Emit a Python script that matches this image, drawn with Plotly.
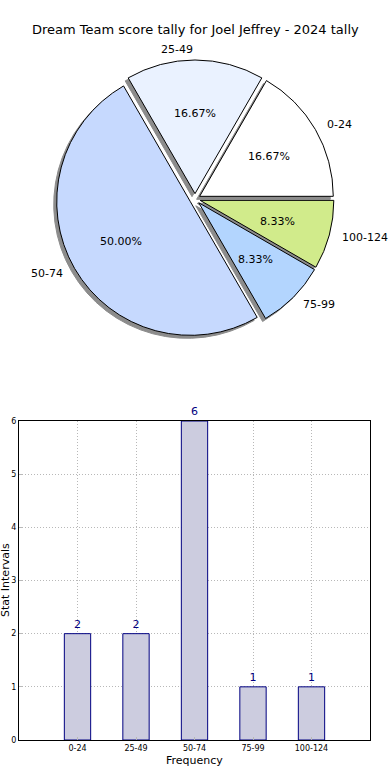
import numpy as np
import plotly.graph_objects as go

title = "Dream Team score tally for Joel Jeffrey - 2024 tally"
categories = ["0-24", "25-49", "50-74", "75-99", "100-124"]
counts = [2, 2, 6, 1, 1]
pie_colors = ["#ffffff", "#eaf2ff", "#c6d9fe", "#b3d5fe", "#d1eb8b"]
pulls = [0.04, 0.04, 0.04, 0.04, 0.04]

W, H = 390, 780
FONT = "DejaVu Sans"

def px_x(a, b):
    return [a / W, b / W]

def px_y(top, bottom):
    return [1 - bottom / H, 1 - top / H]

# pie box (pixels)
PX0, PX1, PY0, PY1 = 56, 334, 60, 338
pie_x = px_x(PX0, PX1)
pie_y = px_y(PY0, PY1)
sh = 3
shadow_x = px_x(PX0 - sh, PX1 - sh)
shadow_y = px_y(PY0 + sh, PY1 + sh)

fig = go.Figure()

common_pie = dict(labels=categories, values=counts, sort=False, direction="counterclockwise",
                  rotation=30, pull=pulls, textinfo="none", showlegend=False)
# shadow
fig.add_trace(go.Pie(
    **common_pie, hoverinfo="skip",
    marker=dict(colors=["#8c8c8c"] * len(counts), line=dict(color="#8c8c8c", width=1)),
    domain=dict(x=shadow_x, y=shadow_y),
))
# main pie
fig.add_trace(go.Pie(
    **common_pie,
    marker=dict(colors=pie_colors, line=dict(color="#000000", width=1)),
    domain=dict(x=pie_x, y=pie_y),
))

# label / percentage positions derived from the data (matplotlib-style placement)
vals = np.array(counts, dtype=float)
total = vals.sum()
cum = np.cumsum(vals)
mid = 2 * np.pi * (cum - vals / 2) / total  # counterclockwise from 3 o'clock
cx, cy = (PX0 + PX1) / 2, (PY0 + PY1) / 2
r = (PX1 - PX0) / (2 + 2 * max(pulls))
annotations = []
for lab, v, th, p in zip(categories, vals, mid, pulls):
    c, s = np.cos(th), np.sin(th)
    ox, oy = cx + p * r * c, cy - p * r * s
    # percentage inside
    annotations.append(dict(
        text=f"{100 * v / total:.2f}%", x=(ox + 0.6 * r * c) / W, y=1 - (oy - 0.6 * r * s) / H,
        xref="paper", yref="paper", showarrow=False, xanchor="center", yanchor="middle",
        font=dict(family=FONT, size=11, color="#000000")))
    # category label outside
    annotations.append(dict(
        text=lab, x=(cx + 1.12 * r * c) / W, y=1 - (cy - 1.12 * r * s) / H,
        xref="paper", yref="paper", showarrow=False,
        xanchor="left" if c > 1e-9 else "right", yanchor="middle",
        font=dict(family=FONT, size=11, color="#000000")))

# bar chart
xpos = list(range(len(categories)))
fig.add_trace(go.Bar(
    x=xpos, y=counts, width=0.45,
    marker=dict(color="#ccccdf", line=dict(color="#000080", width=1)),
    text=[str(c) for c in counts], textposition="outside",
    textfont=dict(family=FONT, size=11, color="#000080"),
    cliponaxis=False, showlegend=False, xaxis="x", yaxis="y",
))

axis_common = dict(
    showline=True, mirror=True, linecolor="#000000", linewidth=1,
    showgrid=True, gridcolor="#b8b8b8", griddash="1px,2px", gridwidth=1,
    ticks="inside", ticklen=3, tickcolor="#b8b8b8", automargin=False,
    tickfont=dict(family=FONT, size=8, color="#000000"), zeroline=False,
)

annotations += [
    dict(text=title, x=0.5, y=1 - 30 / H, xref="paper", yref="paper",
         showarrow=False, font=dict(family=FONT, size=13), xanchor="center", yanchor="middle"),
    dict(text="Frequency", x=194 / W, y=1 - 760 / H, xref="paper", yref="paper",
         showarrow=False, font=dict(family=FONT, size=11), xanchor="center", yanchor="middle"),
    dict(text="Stat Intervals", x=5 / W, y=1 - 580 / H, xref="paper", yref="paper",
         showarrow=False, textangle=-90, font=dict(family=FONT, size=11),
         xanchor="center", yanchor="middle"),
]

fig.update_layout(
    width=W, height=H, margin=dict(l=0, r=0, t=0, b=0, autoexpand=False),
    paper_bgcolor="white", plot_bgcolor="white",
    font=dict(family=FONT, color="#000000"),
    xaxis=dict(domain=px_x(19, 370), range=[-1, 5], tickvals=xpos, ticktext=categories,
               **axis_common),
    yaxis=dict(domain=px_y(421, 740), range=[0, 6], tickvals=[0, 1, 2, 3, 4, 5, 6],
               **axis_common),
    annotations=annotations,
)

fig.write_html(
    "out.html",
    config={"displayModeBar": False},
    post_script="document.body.style.margin='0px';",
)
